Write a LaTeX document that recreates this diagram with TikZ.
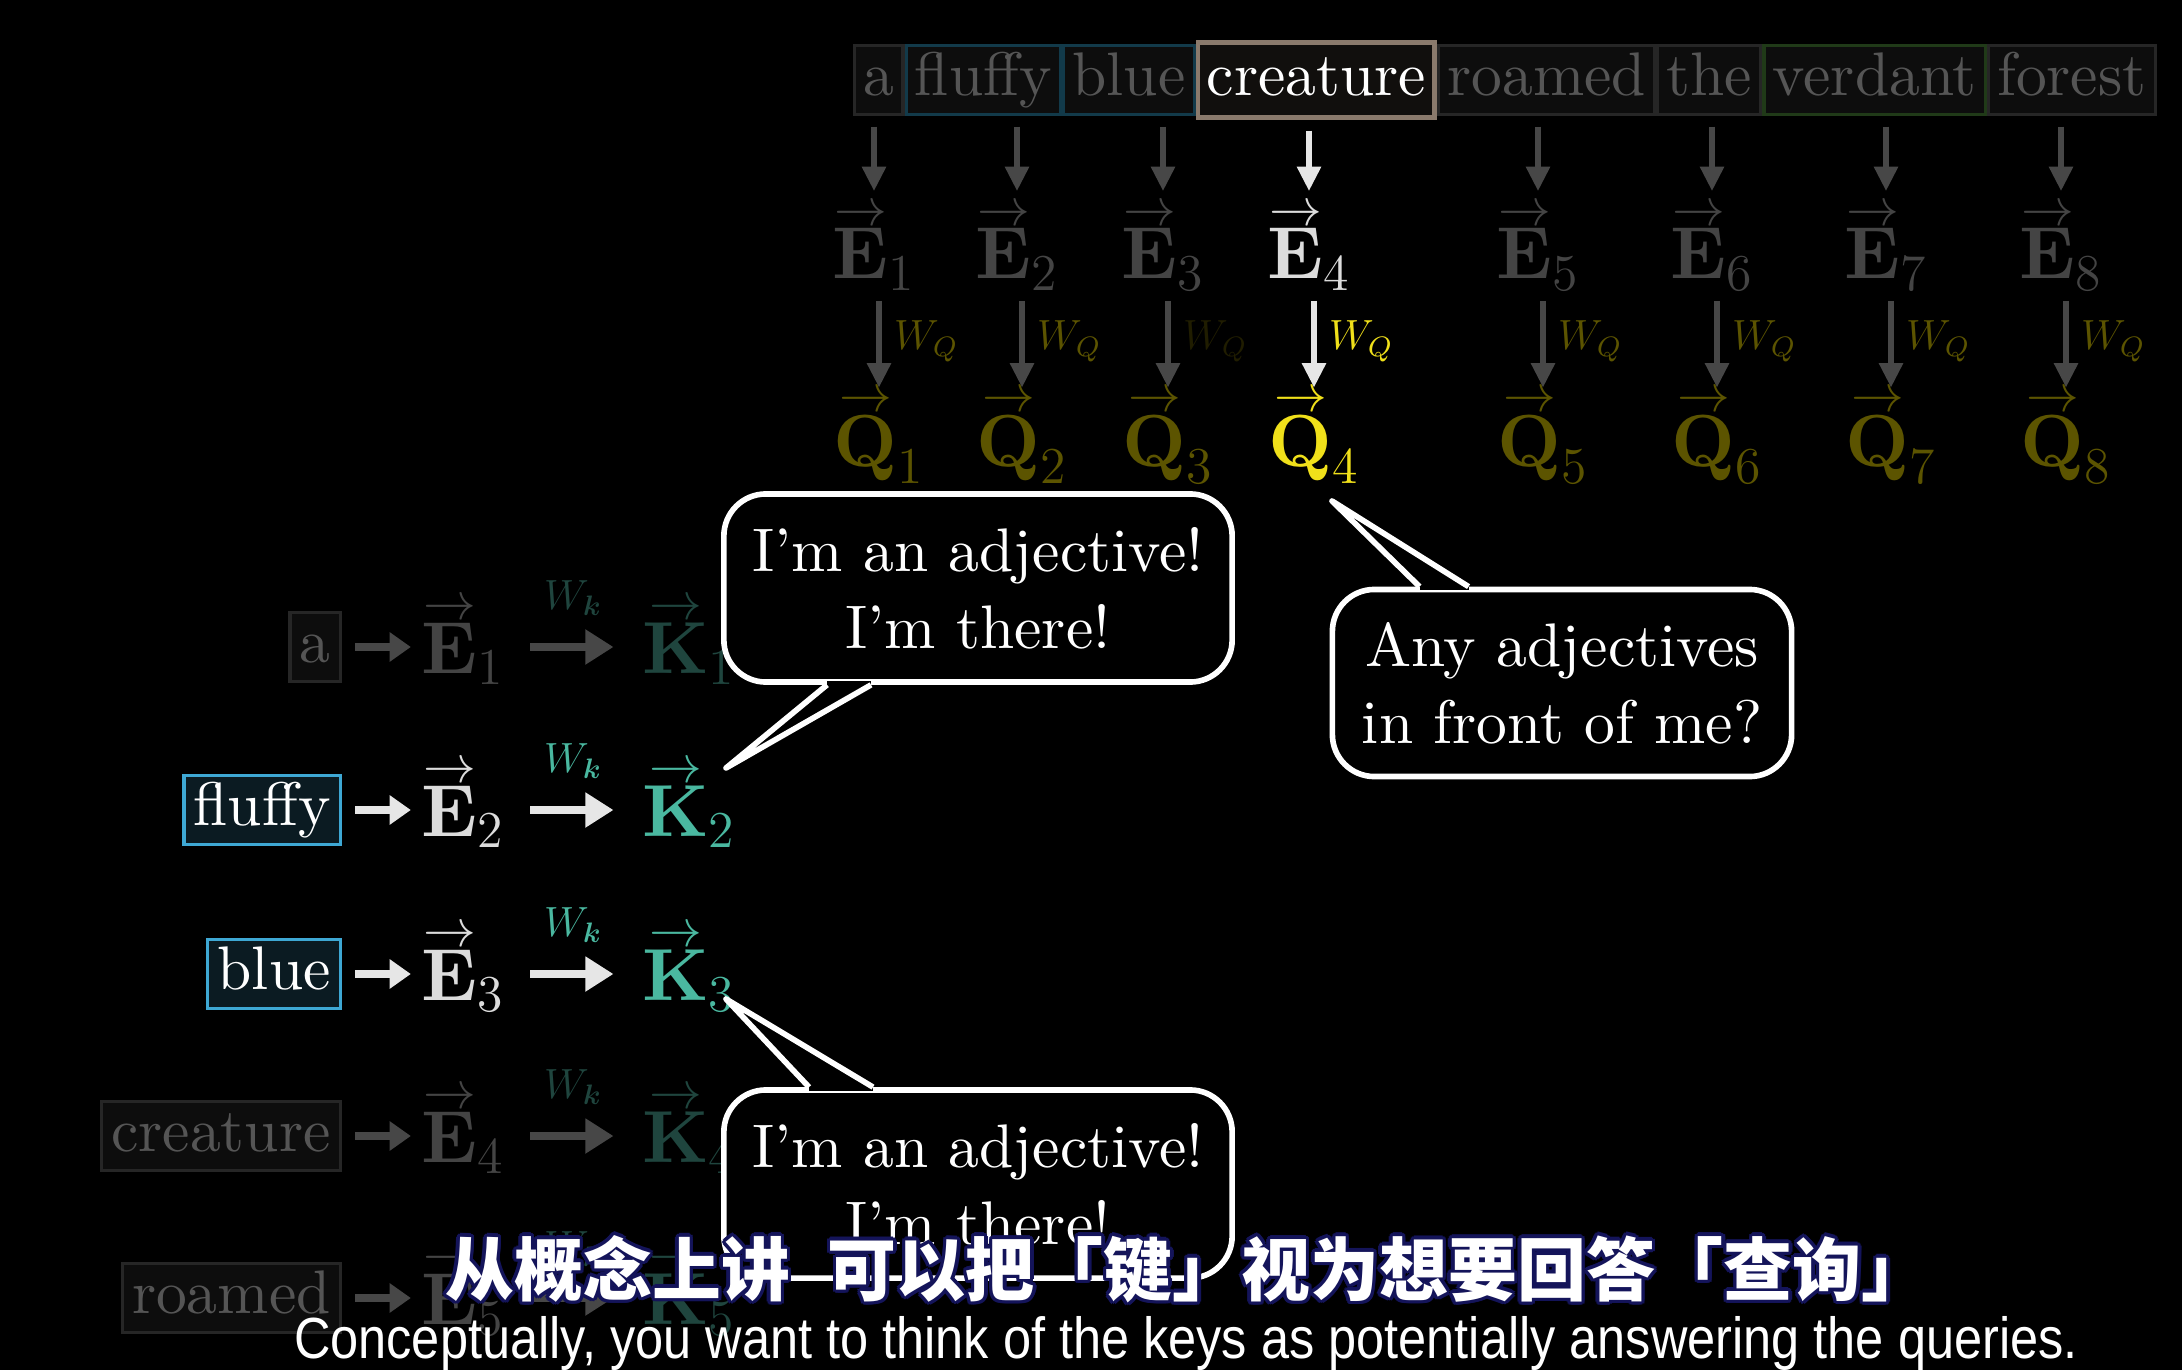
\RequirePackage{fix-cm}
\documentclass[tikz,border=0pt]{standalone}
\usepackage{amsmath}
\usepackage{fontspec}
\usetikzlibrary{arrows.meta, positioning, calc}

\setmainfont{lmroman10-regular.otf}[BoldFont=lmroman10-bold.otf, ItalicFont=lmroman10-italic.otf]
\newfontfamily\cjkfont{Noto Sans CJK SC}
\newfontfamily\subfont[FakeStretch=0.87]{Liberation Sans}
\newcommand\wordsize{\fontsize{17.5}{22}\selectfont}
\newcommand\vecsize{\fontsize{21}{25}\selectfont}
\newcommand\wsize{\fontsize{12}{14}\selectfont}
\newcommand\cjksize{\fontsize{19.6}{22}\selectfont}
\newcommand\vv[2]{\vbox{\offinterlineskip\halign{\hfil##\hfil\cr\fontsize{15}{15}\selectfont$\rightarrow$\cr\noalign{\kern1pt}$\mathbf{#1}$\cr}}_{#2}}

\definecolor{dimtext}{HTML}{555555}
\definecolor{dimline}{HTML}{262626}
\definecolor{dimfill}{HTML}{0D0D0D}
\definecolor{dimflow}{HTML}{474747}
\definecolor{dimvec}{HTML}{444444}
\definecolor{litflow}{HTML}{E6E6E6}
\definecolor{litvec}{HTML}{DCDCDC}
\definecolor{query}{HTML}{F0E01A}
\definecolor{querydim}{HTML}{5C5400}
\definecolor{key}{HTML}{4AB8A0}
\definecolor{keydim}{HTML}{1F453E}
\definecolor{adjline}{HTML}{3EA8D4}
\definecolor{adjfill}{HTML}{0B1B22}
\definecolor{adjtop}{HTML}{123A4A}
\definecolor{nounline}{HTML}{8A7A6C}
\definecolor{greenline}{HTML}{203A18}
\definecolor{subline}{HTML}{14145A}

\tikzset{
  word/.style={rectangle, draw=dimline, fill=dimfill, line width=0.9pt, inner xsep=2.8pt, inner ysep=1.7pt, text height=12.5pt, text depth=3.5pt, text=dimtext, font=\wordsize},
  token/.style={word, inner xsep=2.5pt},
  vecnode/.style={inner sep=0pt, font=\vecsize, yshift=0.05cm},
  dropflow/.style={line width=1.9pt, -{Triangle[length=7pt, width=6.5pt]}},
  flow/.style={line width=2.2pt, -{Triangle[length=6pt, width=8pt]}},
  keyflow/.style={line width=2.2pt, -{Triangle[length=8pt, width=9.5pt]}},
  bubble/.style={rectangle, rounded corners=0.42cm, draw=white, fill=black, line width=1.6pt, text=white, align=center, font=\wordsize, minimum width=5.08cm, minimum height=1.88cm},
  dimcol/.code={\colorlet{acol}{dimflow}\colorlet{ecol}{dimvec}\colorlet{qcol}{querydim}\colorlet{wqcol}{querydim}},
  fadecol/.code={\colorlet{acol}{dimflow}\colorlet{ecol}{dimvec}\colorlet{qcol}{querydim}\colorlet{wqcol}{querydim!35!black}},
  litcol/.code={\colorlet{acol}{litflow}\colorlet{ecol}{litvec}\colorlet{qcol}{query}\colorlet{wqcol}{query}},
  dimrow/.code={\colorlet{boxline}{dimline}\colorlet{boxfill}{dimfill}\colorlet{boxtext}{dimtext}\colorlet{acol}{dimflow}\colorlet{ecol}{dimvec}\colorlet{kcol}{keydim}},
  litrow/.code={\colorlet{boxline}{adjline}\colorlet{boxfill}{adjfill}\colorlet{boxtext}{white}\colorlet{acol}{litflow}\colorlet{ecol}{litvec}\colorlet{kcol}{key}}
}

\begin{document}
\begin{tikzpicture}[x=0.01cm, y=-0.01cm]
    \fill[black] (0,0) rectangle (2182,1370);
    \useasboundingbox (0,0) rectangle (2182,1370);

    % sentence on top
    \node[token, anchor=west] (w1) at (853,80) {a};
    \node[token, draw=adjtop, right=0pt of w1] (w2) {fluffy};
    \node[token, draw=adjtop, right=0pt of w2] (w3) {blue};
    \node[token, draw=nounline, fill=black!88!nounline, line width=1.3pt, inner ysep=2.6pt, text=white, right=0pt of w3] (w4) {creature};
    \node[token, right=0pt of w4] (w5) {roamed};
    \node[token, right=0pt of w5] (w6) {the};
    \node[token, draw=greenline, right=0pt of w6] (w7) {verdant};
    \node[token, right=0pt of w7] (w8) {forest};

    % embeddings and queries
    \foreach \i/\x/\s in {1/874/dimcol, 2/1017/dimcol, 3/1163/fadecol, 4/1309/litcol, 5/1538/dimcol, 6/1712/dimcol, 7/1886/dimcol, 8/2061/dimcol} {
        \begin{scope}[\s]
            \node[vecnode, text=ecol] (E\i) at (\x,253) {$\vv{E}{\i}$};
            \node[vecnode, text=qcol] (Q\i) at (\x+5,443) {$\vv{Q}{\i}$};
            \draw[dropflow, draw=acol, shorten <=0.11cm, shorten >=0.14cm] (E\i.north |- w\i.south) -- (E\i.north);
            \draw[dropflow, draw=acol, shorten <=0.1cm, shorten >=0.04cm] (E\i.south -| Q\i.north) -- (Q\i.north) node[midway, right, text=wqcol, font=\wsize] {$W_Q$};
        \end{scope}
    }

    % keys on the left
    \foreach \i/\w/\y/\s in {1/a/647/dimrow, 2/fluffy/810/litrow, 3/blue/974/litrow, 4/creature/1136/dimrow, 5/roamed/1298/dimrow} {
        \begin{scope}[\s]
            \node[word, draw=boxline, fill=boxfill, text=boxtext, anchor=east] (lw\i) at (342,\y) {\w};
            \node[vecnode, text=ecol] (le\i) at (463,\y) {$\vv{E}{\i}$};
            \node[vecnode, text=kcol] (lk\i) at (689,\y) {$\vv{K}{\i}$};
            \draw[flow, draw=acol, shorten <=0.13cm, shorten >=0.1cm] (lw\i.east) -- (lw\i -| le\i.west);
            \draw[keyflow, draw=acol, shorten <=0.25cm, shorten >=0.28cm] (lw\i -| le\i.east) -- (lw\i -| lk\i.west) node[midway, above=0.16cm, text=kcol, font=\wsize] {$W_{\boldsymbol{k}}$};
        \end{scope}
    }

    % speech bubbles
    \node[bubble] (say1) at (978,588) {I'm an adjective!\\I'm there!};
    \node[bubble, minimum width=4.59cm, minimum height=1.87cm] (ask) at (1562,683) {Any adjectives\\in front of me?};
    \node[bubble] (say2) at (978,1184) {I'm an adjective!\\I'm there!};

    \coordinate (t1a) at ($(say1.south west)+(106,0)$);
    \coordinate (t1b) at ($(say1.south west)+(150,0)$);
    \coordinate (t1) at ($(lk2)+(37,-37)$);
    \coordinate (t2a) at ($(ask.north west)+(90,0)$);
    \coordinate (t2b) at ($(ask.north west)+(139,0)$);
    \coordinate (t2) at ($(Q4)+(18,63)$);
    \coordinate (t3a) at ($(say2.north west)+(88,0)$);
    \coordinate (t3b) at ($(say2.north west)+(152,0)$);
    \coordinate (t3) at ($(lk3)+(37,30)$);
    \foreach \t in {t1, t2, t3} {
        \fill[black] (\t a) -- (\t) -- (\t b) -- cycle;
        \draw[black, line width=2pt] (\t a) -- (\t b);
        \draw[white, line width=1.6pt, line join=round] (\t a) -- (\t) -- (\t b);
    }

    % subtitles
    \foreach \a in {0,30,...,330}
        \node[font=\cjkfont\bfseries\cjksize, text=subline] at ($(1188,1269)+(\a:3.5)$) {从概念上讲\hspace{0.55em}可以把「键」视为想要回答「查询」};
    \node[font=\cjkfont\bfseries\cjksize, text=white] (cn) at (1188,1269) {从概念上讲\hspace{0.55em}可以把「键」视为想要回答「查询」};
    \node[font=\subfont\fontsize{16.5}{20}\selectfont, text=white] (en) at (1186,1343) {Conceptually, you want to think of the keys as potentially answering the queries.};
\end{tikzpicture}
\end{document}
